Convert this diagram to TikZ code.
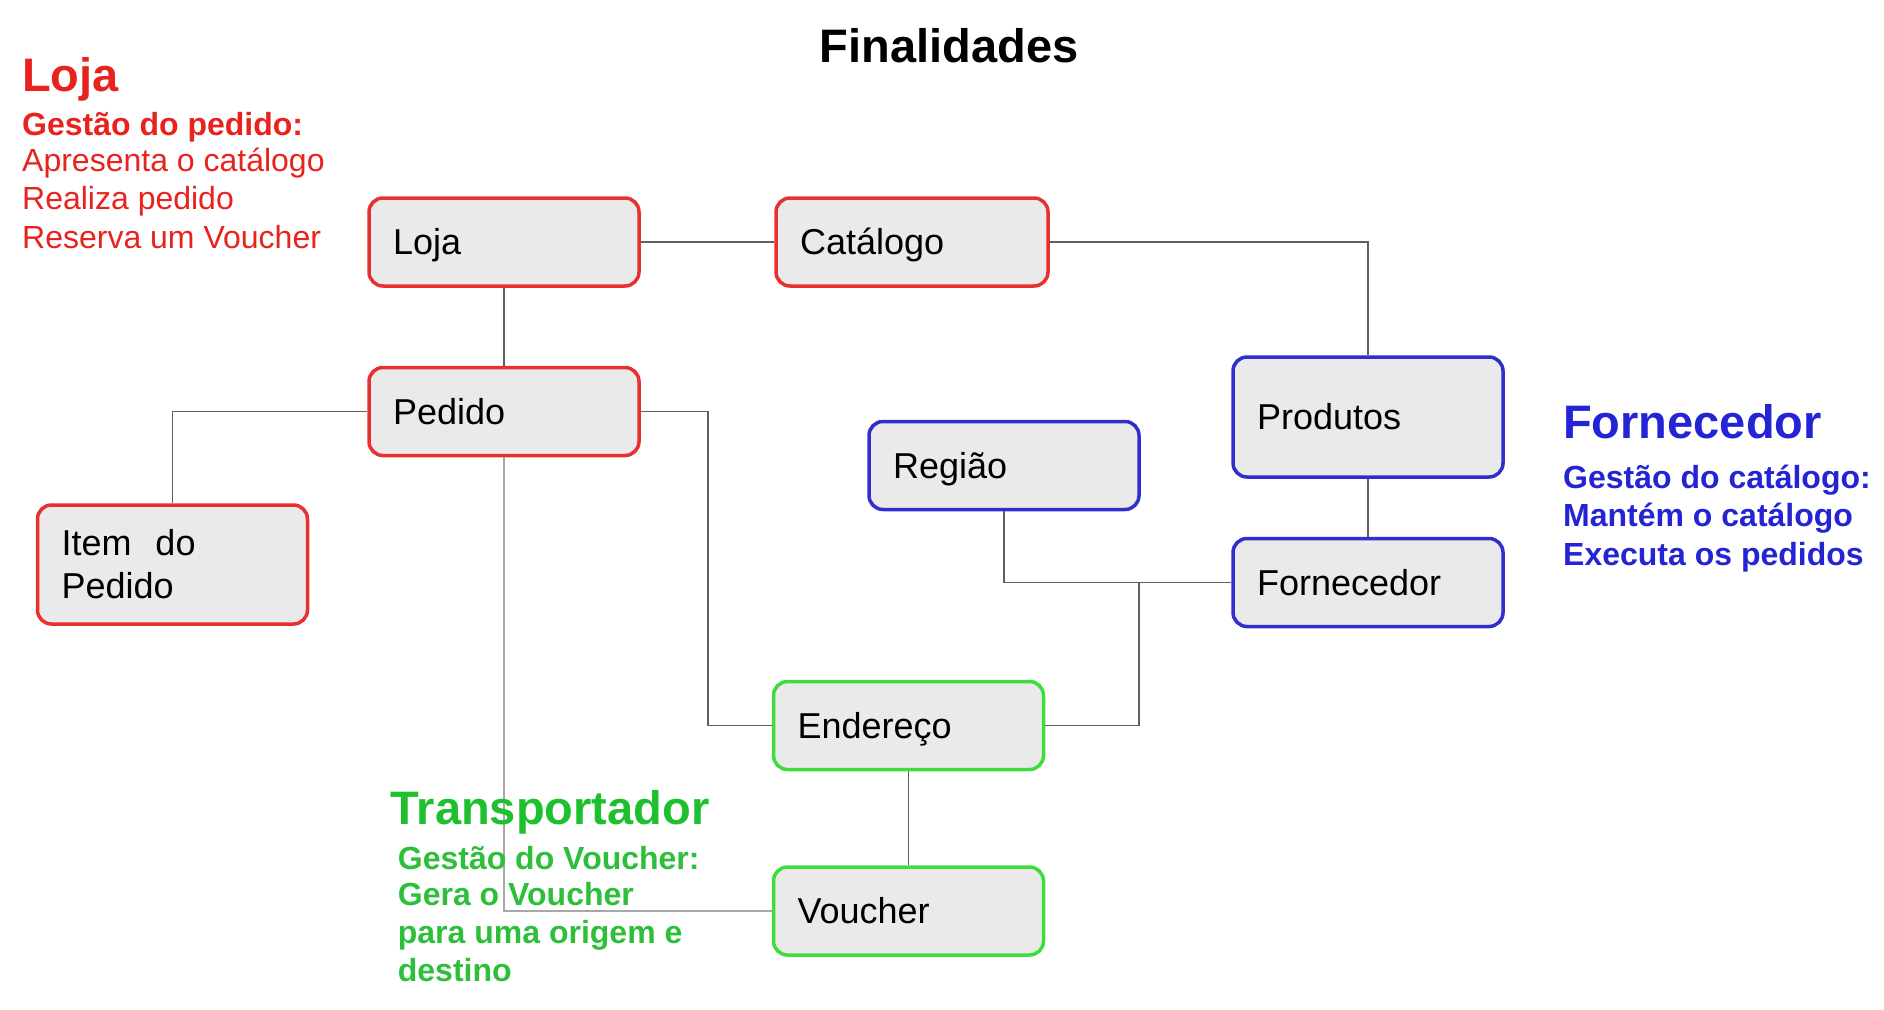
\documentclass[tikz,border=0pt]{standalone}
\usepackage{fontspec}
\setmainfont{Liberation Sans}
\definecolor{boxfill}{HTML}{EAEAEA}
\definecolor{redline}{HTML}{E83030}
\definecolor{redtext}{HTML}{E8231E}
\definecolor{blueline}{HTML}{2F2FCF}
\definecolor{bluetext}{HTML}{2424D4}
\definecolor{greenline}{HTML}{3CDD3C}
\definecolor{greenhead}{HTML}{1EC02E}
\definecolor{greentext}{HTML}{2DBF3A}
\definecolor{connc}{HTML}{606060}
\definecolor{connlc}{HTML}{A8A8A8}
\begin{document}
\begin{tikzpicture}[x=1pt,y=-1pt,
  box/.style={draw, line width=3.5pt, rounded corners=14pt, fill=boxfill,
    text width=222pt, inner xsep=24pt, inner ysep=0pt, align=left,
    font=\fontsize{36}{43}\selectfont, text=black, minimum height=88pt},
  oneline/.style={text height=33pt, text depth=7.5pt},
  redbox/.style={box, draw=redline},
  bluebox/.style={box, draw=blueline},
  greenbox/.style={box, draw=greenline},
  conn/.style={draw=connc, line width=1.6pt},
  connlight/.style={draw=connlc, line width=1.6pt},
  head/.style={anchor=base west, inner sep=0pt, font=\fontsize{47}{56}\selectfont\bfseries},
  sub/.style={anchor=base west, inner sep=0pt, font=\fontsize{32}{38}\selectfont},
  subb/.style={anchor=base west, inner sep=0pt, font=\fontsize{32}{38}\selectfont\bfseries}
]
\useasboundingbox (0,0) rectangle (1884,1009);

% title
\node[anchor=base, inner sep=0pt, font=\fontsize{47}{56}\selectfont\bfseries] (title) at (949,62.5) {Finalidades};

% Loja text
\node[head, text=redtext] (hloja) at (22,91.3) {Loja};
\node[subb, text=redtext] (loja1) at (22,135) {Gestão do pedido:};
\node[sub, text=redtext] (loja2) at (22,171) {Apresenta o catálogo};
\node[sub, text=redtext] (loja3) at (22,209.6) {Realiza pedido};
\node[sub, text=redtext] (loja4) at (22,248) {Reserva um Voucher};

% Fornecedor text
\node[head, text=bluetext] (hforn) at (1563,438.6) {Fornecedor};
\node[subb, text=bluetext] (forn1) at (1563,488.4) {Gestão do catálogo:};
\node[subb, text=bluetext] (forn2) at (1563,526.8) {Mantém o catálogo};
\node[subb, text=bluetext] (forn3) at (1563,565.2) {Executa os pedidos};

% boxes
\node[redbox, oneline] (loja) at (504,242) {Loja};
\node[redbox, oneline, text width=224pt] (catalogo) at (912,242) {Catálogo};
\node[redbox, oneline] (pedido) at (504,411.5) {Pedido};
\node[redbox, minimum height=119pt] (item) at (172.5,564.5) {Item\ \ do\\Pedido};
\node[bluebox, oneline, minimum height=120pt] (produtos) at (1368,417) {Produtos};
\node[bluebox, oneline] (regiao) at (1004,465.5) {Região};
\node[bluebox, oneline] (fornecedor) at (1368,582.5) {Fornecedor};
\node[greenbox, oneline] (endereco) at (908.5,725.5) {Endereço};
\node[greenbox, oneline] (voucher) at (908.5,911) {Voucher};

\coordinate (join) at (1139,582.5);

% connectors
\draw[conn] (loja) -- (catalogo);
\draw[conn] (catalogo) -| (produtos);
\draw[conn] (loja) -- (pedido);
\draw[conn] (pedido) -| (item);
\draw[conn] (pedido.east) -- ++(67,0) |- (endereco.west);
\draw[connlight] (pedido) |- (voucher);
\draw[conn] (produtos) -- (fornecedor);
\draw[conn] (regiao) |- (fornecedor);
\draw[conn] (endereco) -| (join);
\draw[conn] (endereco) -- (voucher);

% Transportador text (drawn over the light line)
\node[head, text=greenhead] (htrans) at (390.5,824) {Transportador};
\node[subb, text=greentext] (tr1) at (397.7,869) {Gestão do Voucher:};
\node[subb, text=greentext] (tr2) at (397.7,905.3) {Gera o Voucher};
\node[subb, text=greentext] (tr3) at (397.7,943.8) {para uma origem e};
\node[subb, text=greentext] (tr4) at (397.7,981) {destino};
\end{tikzpicture}
\end{document}
